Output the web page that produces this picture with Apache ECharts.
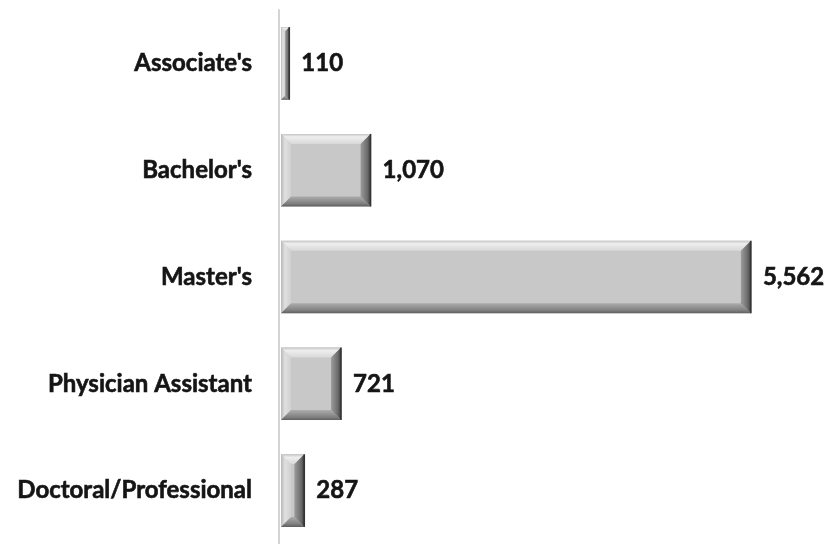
<!DOCTYPE html>
<html>
<head>
<meta charset="utf-8">
<script src="https://cdn.jsdelivr.net/npm/echarts@6/dist/echarts.min.js"></script>
<style>
  html, body { margin: 0; padding: 0; background: #fff; }
  #chart { width: 825px; height: 544px; }
</style>
</head>
<body>
<div id="chart"></div>
<script>
// degree data
var categories = ["Associate's", "Bachelor's", "Master's", "Physician Assistant", "Doctoral/Professional"];
var values = [110, 1070, 5562, 721, 287];

window.onload = function () {
  var myChart = echarts.init(document.getElementById('chart'));

  // draws one bevelled bar
  function renderBar(params, api) {
    var idx = api.value(1);
    var start = api.coord([0, idx]);
    var end = api.coord([api.value(0), idx]);
    var band = api.size([0, 1])[1];
    var h = band * 0.68;
    var x0 = start[0] + 2, x1 = end[0] + 1;
    var y0 = start[1] - h / 2, y1 = start[1] + h / 2;
    var b = Math.min(10, (x1 - x0) / 2, h / 2);
    var lbl = api.value(0).toLocaleString('en-US');
    return {
      type: 'group',
      children: [
        { type: 'rect', shape: { x: x0, y: y0, width: x1 - x0, height: y1 - y0 },
          style: { fill: '#c8c8c8' } },
        { type: 'polygon', shape: { points: [[x0, y0], [x1, y0], [x1 - b, y0 + b], [x0 + b, y0 + b]] },
          style: { fill: new echarts.graphic.LinearGradient(0, 0, 0, 1, [
            { offset: 0, color: '#c4c4c4' }, { offset: 0.3, color: '#eeeeee' }, { offset: 1, color: '#d8d8d8' }]) } },
        { type: 'polygon', shape: { points: [[x0, y0], [x0 + b, y0 + b], [x0 + b, y1 - b], [x0, y1]] },
          style: { fill: new echarts.graphic.LinearGradient(0, 0, 1, 0, [
            { offset: 0, color: '#b8b8b8' }, { offset: 0.4, color: '#e0e0e0' }, { offset: 1, color: '#d0d0d0' }]) } },
        { type: 'polygon', shape: { points: [[x0, y1], [x1, y1], [x1 - b, y1 - b], [x0 + b, y1 - b]] },
          style: { fill: new echarts.graphic.LinearGradient(0, 0, 0, 1, [
            { offset: 0, color: '#acacac' }, { offset: 0.7, color: '#808080' }, { offset: 1, color: '#5e5e5e' }]) } },
        { type: 'polygon', shape: { points: [[x1, y0], [x1, y1], [x1 - b, y1 - b], [x1 - b, y0 + b]] },
          style: { fill: new echarts.graphic.LinearGradient(0, 0, 1, 0, [
            { offset: 0, color: '#9c9c9c' }, { offset: 0.7, color: '#6a6a6a' }, { offset: 1, color: '#3a3a3a' }]) } },
        { type: 'line', shape: { x1: x1, y1: y0, x2: x1, y2: y1 },
          style: { stroke: '#333', lineWidth: 1.5 } },
        { type: 'text', x: x1 + 12, y: start[1],
          style: { text: lbl, fill: '#151515', font: 'bold 24px Lato, "Open Sans", sans-serif',
            stroke: '#151515', lineWidth: 0.6,
            textAlign: 'left', textVerticalAlign: 'middle' } }
      ]
    };
  }

  var option = {
    animation: false,
    grid: { left: 279, top: 10, width: 508, height: 545 },
    xAxis: {
      type: 'value', min: 0, max: 6000,
      show: false
    },
    yAxis: {
      type: 'category', data: categories, inverse: true,
      axisLine: { show: true, lineStyle: { color: '#d4d4d4', width: 2 } },
      axisTick: { show: false },
      axisLabel: { margin: 27, color: '#151515', fontSize: 24, fontWeight: 'bold',
        fontFamily: 'Lato, "Open Sans", sans-serif',
        textBorderColor: '#151515', textBorderWidth: 0.6 }
    },
    series: [{
      type: 'custom',
      renderItem: renderBar,
      encode: { x: 0, y: 1 },
      data: values.map(function (v, i) { return [v, i]; })
    }]
  };

  myChart.setOption(option);
};
</script>
</body>
</html>
